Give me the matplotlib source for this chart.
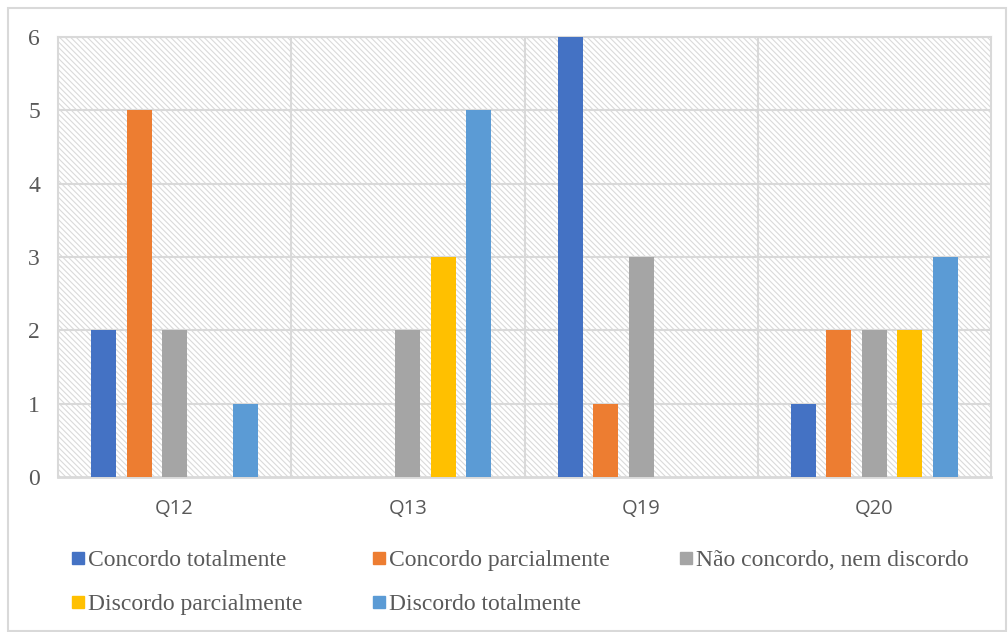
import numpy as np
import matplotlib.pyplot as plt
from matplotlib.patches import Rectangle
from matplotlib.lines import Line2D

questions = ['Q12', 'Q13', 'Q19', 'Q20']
series = ['Concordo totalmente', 'Concordo parcialmente', 'Não concordo, nem discordo',
          'Discordo parcialmente', 'Discordo totalmente']
concordo_tot = [2, 0, 6, 1]
concordo_parc = [5, 0, 1, 2]
neutro = [2, 2, 3, 2]
discordo_parc = [0, 3, 0, 2]
discordo_tot = [1, 5, 0, 3]
values = [concordo_tot, concordo_parc, neutro, discordo_parc, discordo_tot]
colors = ['#4472C4', '#ED7D31', '#A5A5A5', '#FFC000', '#5B9BD5']

grid_c = '#d9d9d9'
txt_c = '#595959'
plt.rcParams['hatch.linewidth'] = 0.8
plt.rcParams['hatch.color'] = '#dadada'

fig = plt.figure(figsize=(10.08, 6.32), dpi=100)
# outer frame
fig.patches.append(Rectangle((8/1008, 1/632), 998/1008, 623/632, transform=fig.transFigure,
                             fill=False, edgecolor=grid_c, linewidth=1.5))
ax = fig.add_axes([58/1008, 1-477/632, 933/1008, 440/632])

# hatched plot area
ax.add_patch(Rectangle((0, 0), 1, 1, transform=ax.transAxes, facecolor='white',
                       edgecolor='#dadada', hatch='\\' * 6, linewidth=0, zorder=0))

x = np.arange(len(questions))
slot = 0.152
width = 0.107
for i, (vals, c) in enumerate(zip(values, colors)):
    ax.bar(x + (i - 2) * slot, vals, width, color=c, zorder=3, label=series[i])

ax.set_xlim(-0.5, 3.5)
ax.set_ylim(0, 6)
ax.set_yticks(range(7))
ax.set_xticks(x)
ax.set_xticklabels(questions, fontfamily='Open Sans', fontsize=14.5, color=txt_c)
ax.tick_params(axis='x', length=0, pad=16)
ax.tick_params(axis='y', length=0, pad=13, labelsize=17, labelcolor=txt_c)
for lab in ax.get_yticklabels():
    lab.set_fontfamily('Liberation Serif')

for yv in range(1, 7):
    ax.axhline(yv, color=grid_c, linewidth=1.5, zorder=1)
for xv in [0.5, 1.5, 2.5]:
    ax.axvline(xv, color=grid_c, linewidth=1.5, zorder=1)
for s in ax.spines.values():
    s.set_color(grid_c)
    s.set_linewidth(1.5)
ax.spines['bottom'].set_linewidth(2)

# legend is filled column-wise, so reorder to read row-wise like the original
order = [0, 3, 1, 4, 2]
handles = [Line2D([], [], marker='s', linestyle='', markersize=8.5, color=colors[k]) for k in order]
labels = [series[k] for k in order]
fig.legend(handles, labels, loc='upper left', bbox_to_anchor=(48/1008, 1-528/632), ncol=3,
           frameon=False, handletextpad=0.05, handlelength=0.75, columnspacing=2.85,
           labelspacing=0.98, prop={'family': 'Liberation Serif', 'size': 17}, labelcolor=txt_c)

fig.savefig('out.png', dpi=100)
